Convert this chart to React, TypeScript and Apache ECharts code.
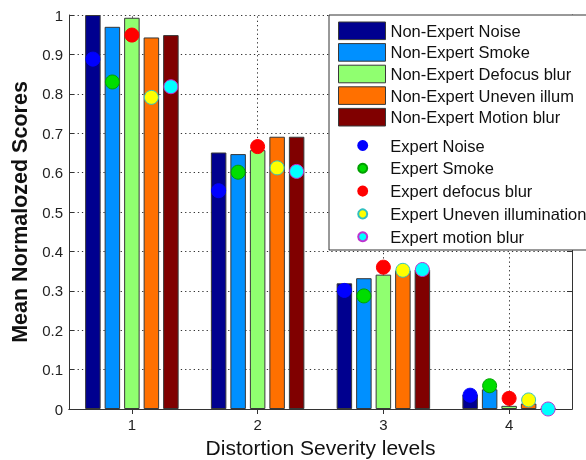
import React, { useEffect, useRef } from "react";
import * as echarts from "echarts";

const categories = ["1", "2", "3", "4"];

const barNames = [
  "Non-Expert Noise",
  "Non-Expert Smoke",
  "Non-Expert Defocus blur",
  "Non-Expert Uneven illum",
  "Non-Expert Motion blur",
];
const nonExpertNoise = [1.0, 0.651, 0.319, 0.037];
const nonExpertSmoke = [0.97, 0.647, 0.332, 0.05];
const nonExpertDefocus = [0.993, 0.657, 0.341, 0.008];
const nonExpertUneven = [0.943, 0.691, 0.352, 0.014];
const nonExpertMotion = [0.949, 0.691, 0.354, 0.002];

const dotNames = [
  "Expert Noise",
  "Expert Smoke",
  "Expert defocus blur",
  "Expert Uneven illumination",
  "Expert motion blur",
];
const expertNoise = [0.888, 0.554, 0.301, 0.035];
const expertSmoke = [0.83, 0.601, 0.287, 0.059];
const expertDefocus = [0.949, 0.666, 0.36, 0.027];
const expertUneven = [0.791, 0.612, 0.352, 0.023];
const expertMotion = [0.818, 0.603, 0.354, 0.0];

const barColors = ["#00008f", "#0090ff", "#90ff70", "#ff7000", "#800000"];
const dotColors = ["#0000ff", "#00dd00", "#ff0000", "#ffff00", "#00ffff"];
const dotEdges = ["#0000ff", "#00a000", "#ff0000", "#30c0c0", "#c030d0"];

const FONT = "'Liberation Sans', Arial, Helvetica, sans-serif";
const BAR_W = 15.5;
const BAR_GAP_PX = 4;
const GRID_DASH = [1.3, 3];

export default function App() {
  const ref = useRef<HTMLDivElement>(null);
  useEffect(() => {
    if (!ref.current) return;
    const chart = echarts.init(ref.current, undefined, { renderer: "svg" });
    const barData = [nonExpertNoise, nonExpertSmoke, nonExpertDefocus, nonExpertUneven, nonExpertMotion];
    const dotData = [expertNoise, expertSmoke, expertDefocus, expertUneven, expertMotion];
    const pitch = BAR_W + BAR_GAP_PX;

    const gridSeries = {
      name: "vgrid",
      type: "line",
      data: [],
      z: 0,
      silent: true,
      markLine: {
        silent: true,
        z: 1,
        symbol: "none",
        label: { show: false },
        lineStyle: { color: "#333", type: GRID_DASH, width: 1 },
        data: categories.map((c) => ({ xAxis: c })),
      },
    };

    const barSeries = barData.map((d, i) => ({
      name: barNames[i],
      type: "bar",
      data: d,
      barWidth: BAR_W,
      barGap: (BAR_GAP_PX / BAR_W) * 100 + "%",
      itemStyle: { color: barColors[i], borderColor: "#383838", borderWidth: 1 },
      z: 2,
    }));
    const dotSeries = dotData.map((d, i) => ({
      name: dotNames[i],
      type: "scatter",
      data: d,
      symbol: "circle",
      symbolSize: 14,
      symbolOffset: [(i - 2) * pitch, 0],
      itemStyle: { color: dotColors[i], borderColor: dotEdges[i], borderWidth: 1, opacity: 1 },
      clip: false,
      z: 4,
    }));

    const axisLine = { show: true, lineStyle: { color: "#333", width: 1 } };
    const tick = { show: true, inside: true, length: 5, lineStyle: { color: "#333" } };
    const option = {
      animation: false,
      textStyle: { fontFamily: FONT },
      grid: { left: 69, top: 15, width: 503, height: 394, containLabel: false, outerBoundsMode: "none" },
      xAxis: [
        {
          type: "category",
          data: categories,
          position: "bottom",
          axisLine,
          axisTick: { ...tick, alignWithLabel: true },
          axisLabel: { color: "#222", fontSize: 15, fontFamily: FONT, margin: 8 },
          splitLine: { show: false },
          name: "Distortion Severity levels",
          nameLocation: "middle",
          nameGap: 27,
          nameTextStyle: { fontSize: 21, color: "#111", fontFamily: FONT },
        },
        {
          type: "category",
          data: categories,
          position: "top",
          axisLine,
          axisTick: { ...tick, alignWithLabel: true },
          axisLabel: { show: false },
          splitLine: { show: false },
        },
      ],
      yAxis: [
        {
          type: "value",
          min: 0,
          max: 1,
          interval: 0.1,
          position: "left",
          axisLine,
          axisTick: tick,
          axisLabel: { color: "#222", fontSize: 15, fontFamily: FONT, margin: 6, formatter: (v: number) => String(+v.toFixed(1)) },
          splitLine: { show: true, lineStyle: { color: "#333", type: GRID_DASH, width: 1 } },
          name: "Mean Normalozed Scores",
          nameLocation: "middle",
          nameGap: 37,
          nameTextStyle: { fontSize: 21.5, fontWeight: "bold", color: "#111", fontFamily: FONT },
        },
        {
          type: "value",
          min: 0,
          max: 1,
          interval: 0.1,
          position: "right",
          axisLine,
          axisTick: tick,
          axisLabel: { show: false },
          splitLine: { show: false },
        },
      ],
      legend: [
        {
          data: barNames,
          orient: "vertical",
          left: 338,
          top: 21.5,
          padding: 0,
          itemWidth: 47,
          itemHeight: 17.6,
          itemGap: 3,
          icon: "rect",
          itemStyle: { borderColor: "#383838", borderWidth: 1 },
          textStyle: { fontSize: 16.5, color: "#111", fontFamily: FONT, lineHeight: 17 },
          selectedMode: false,
          z: 10,
        },
        {
          data: dotNames,
          orient: "vertical",
          left: 357.2,
          top: 137,
          padding: 0,
          itemWidth: 9,
          itemHeight: 9,
          itemGap: 5.8,
          icon: "circle",
          textStyle: { fontSize: 16.5, color: "#111", fontFamily: FONT, lineHeight: 17, padding: [0, 0, 0, 18] },
          selectedMode: false,
          z: 10,
        },
      ],
      graphic: [
        {
          type: "rect",
          z: 8,
          shape: { x: 329, y: 15, width: 300, height: 235 },
          style: { fill: "#fff", stroke: "#333", lineWidth: 1 },
        },
      ],
      series: [gridSeries, ...barSeries, ...dotSeries],
    };
    chart.setOption(option as any);
    return () => chart.dispose();
  }, []);
  return <div ref={ref} style={{ position: "fixed", left: 0, top: 0, width: 586, height: 460 }} />;
}
